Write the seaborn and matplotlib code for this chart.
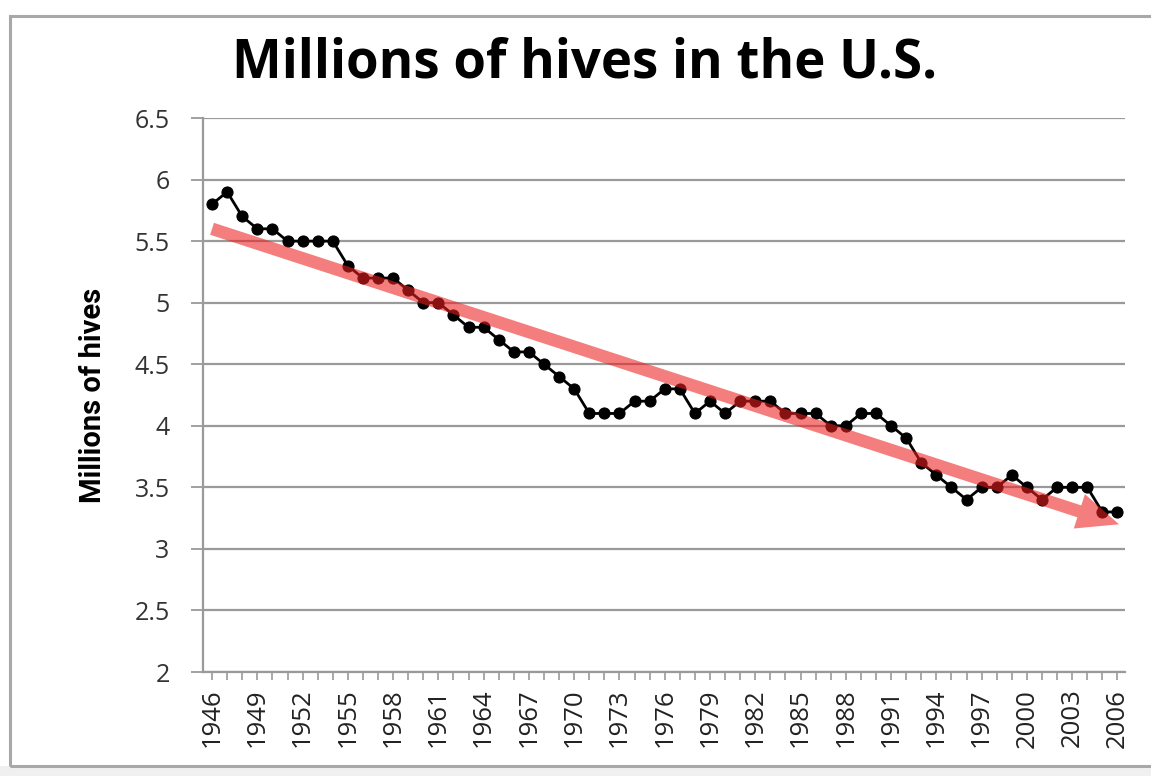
import matplotlib
matplotlib.use("Agg")
import matplotlib.pyplot as plt
from matplotlib.patches import Rectangle
from matplotlib.ticker import MultipleLocator
import seaborn as sns
import pandas as pd

years = list(range(1946, 2007))
hives = [5.8, 5.9, 5.7, 5.6, 5.6, 5.5, 5.5, 5.5, 5.5, 5.3,
         5.2, 5.2, 5.2, 5.1, 5.0, 5.0, 4.9, 4.8, 4.8, 4.7,
         4.6, 4.6, 4.5, 4.4, 4.3, 4.1, 4.1, 4.1, 4.2, 4.2,
         4.3, 4.3, 4.1, 4.2, 4.1, 4.2, 4.2, 4.2, 4.1, 4.1,
         4.1, 4.0, 4.0, 4.1, 4.1, 4.0, 3.9, 3.7, 3.6, 3.5,
         3.4, 3.5, 3.5, 3.6, 3.5, 3.4, 3.5, 3.5, 3.5, 3.3,
         3.3]
trend_start = (1946, 5.6)
trend_end = (2006.1, 3.2)
yticks = [2, 2.5, 3, 3.5, 4, 4.5, 5, 5.5, 6, 6.5]
ytick_labels = ["2", "2.5", "3", "3.5", "4", "4.5", "5", "5.5", "6", "6.5"]
xtick_years = list(range(1946, 2007, 3))

sns.set_theme(style="white")
plt.rcParams['font.family'] = ['Open Sans', 'DejaVu Sans']

df = pd.DataFrame({"year": years, "hives": hives})

W, H = 1151, 776
fig = plt.figure(figsize=(W / 100, H / 100), dpi=100)
fig.patch.set_facecolor("white")

# outer frame and bottom band
fig.patches.append(Rectangle((0, 0), 1, 10 / H, transform=fig.transFigure,
                             facecolor="#f0f0f0", edgecolor="none", zorder=0))
fig.patches.append(Rectangle((10 / W, 10 / H), 1.2, (H - 16 - 10) / H,
                             transform=fig.transFigure, facecolor="none",
                             edgecolor="#a8a8a8", lw=2.2, zorder=1))

ax = fig.add_axes([203 / W, 1 - 672 / H, 922 / W, 554 / H])
ax.set_facecolor("white")

sns.lineplot(data=df, x="year", y="hives", ax=ax, color="black", lw=2.0,
             marker="o", markersize=8, markeredgecolor="black", zorder=3)

ax.annotate("", xy=trend_end, xytext=trend_start, zorder=4,
            arrowprops=dict(arrowstyle="simple,head_width=2.6,head_length=3.0,tail_width=0.9",
                            mutation_scale=10, shrinkA=0, shrinkB=0,
                            color=(0.93, 0.12, 0.12), alpha=0.58, lw=0))

ax.set_xlim(1945.4, 2006.5)
ax.set_ylim(2, 6.5)
ax.set_yticks(yticks)
ax.set_yticklabels(ytick_labels)
ax.set_xticks(xtick_years)
ax.set_xticklabels([str(y) for y in xtick_years], rotation=90)
ax.xaxis.set_minor_locator(MultipleLocator(1))

ax.grid(axis="y", color="#9a9a9a", lw=1.6)
ax.set_axisbelow(True)
for s in ["top", "right"]:
    ax.spines[s].set_visible(False)
ax.spines["left"].set_color("#9a9a9a")
ax.spines["left"].set_linewidth(1.6)
ax.spines["bottom"].set_color("#9a9a9a")
ax.spines["bottom"].set_linewidth(1.6)

ax.tick_params(axis="y", which="major", left=True, length=9, width=1.3,
               color="#9a9a9a", labelsize=18, labelcolor="#333333", pad=15)
ax.tick_params(axis="x", which="both", bottom=True, length=6, width=1.2,
               color="#9a9a9a", labelsize=18.5, labelcolor="#222222", pad=6)

ax.set_xlabel("")
ax.set_ylabel("Millions of hives", fontsize=21, fontweight="bold",
              family=["Roboto", "DejaVu Sans"],
              labelpad=20, color="black")

fig.text(585 / W, 1 - 64 / H, "Millions of hives in the U.S.",
         ha="center", va="center", fontsize=38, fontweight="bold",
         family=["Open Sans", "DejaVu Sans"], color="black")

fig.savefig("out.png", dpi=100)
